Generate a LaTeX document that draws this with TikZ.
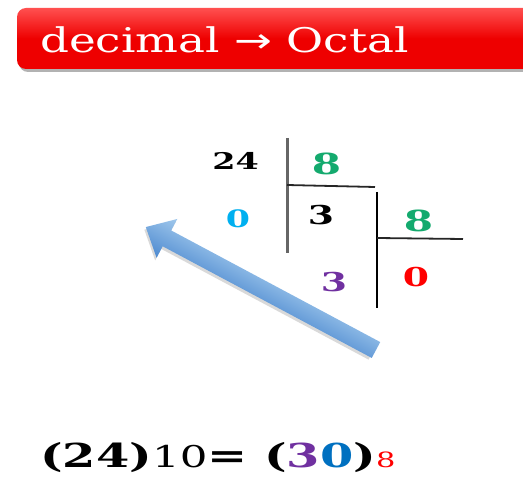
\documentclass[tikz,border=0pt]{standalone}
\usepackage{fontspec}
\setmainfont{DejaVu Serif}
\newfontfamily\arrowfont{DejaVu Sans}
\definecolor{banred}{RGB}{238,0,0}
\definecolor{banlight}{RGB}{255,80,80}
\definecolor{digitgreen}{RGB}{20,170,110}
\definecolor{digitcyan}{RGB}{0,176,240}
\definecolor{digitpurple}{RGB}{112,48,160}
\definecolor{digitblue}{RGB}{0,112,192}
\definecolor{digitred}{RGB}{255,0,0}
\definecolor{arrlight}{RGB}{160,200,236}
\definecolor{arrdark}{RGB}{78,138,208}
\tikzset{
  digit/.style={inner sep=0pt, xscale=1.45, font=\fontsize{#1}{#1}\selectfont\bfseries},
  bar/.style={line width=1.8pt, black!85},
}

\begin{document}
\begin{tikzpicture}[x=1pt,y=-1pt]
  \useasboundingbox (0,0) rectangle (523,478);
  %% Title banner
  \fill[black!30, rounded corners=9pt] (19,11) rectangle (545,72);
  \shade[top color=banlight, bottom color=banred, middle color=banred, rounded corners=9pt] (17,8) rectangle (545,69);
  \node[anchor=base west, inner sep=0pt, text=white, xscale=1.33, font=\fontsize{34}{34}\selectfont] (title) at (40,53) {decimal {\arrowfont →} Octal};
  %% Division steps
  \node[digit=23, text=black] (dividend) at (235.5,161) {24};
  \node[digit=29, text=digitgreen] (baseA) at (326.5,164) {8};
  \node[digit=24, text=digitcyan] (remA) at (238,219) {0};
  \node[digit=26, text=black] (quotA) at (321,215) {3};
  \node[digit=29, text=digitgreen] (baseB) at (418.5,221) {8};
  \node[digit=26, text=digitpurple] (remB) at (334,282) {3};
  \node[digit=26, text=digitred] (quotB) at (416,277) {0};
  \draw[line width=3pt, black!60] (287,138) -- (287,253);
  \draw[bar] (287,185) -- (375,187);
  \draw[bar, black] (377,192) -- (377,308);
  \draw[bar] (377,238) -- (463,239);
  %% Reading arrow (bottom to top)
  \coordinate (tail) at (376,350);
  \begin{scope}[transform canvas={shift={(tail)}, rotate=151.9}]
    \fill[black, opacity=0.15] (2,-12) -- (237,-12) -- (237,-25) -- (261,-3) -- (237,19) -- (237,6) -- (2,6) -- cycle;
    \shade[top color=arrdark, bottom color=arrlight] (0,-9) -- (237,-9) -- (237,-22) -- (261,0) -- (237,22) -- (237,9) -- (0,9) -- cycle;
  \end{scope}
  %% Result
  \node[anchor=base west, inner sep=0pt, xscale=1.45, font=\fontsize{33}{33}\selectfont\bfseries] (result) at (40,468)
    {(24){\fontsize{30}{30}\selectfont\mdseries 10}= (\textcolor{digitpurple}{3}\textcolor{digitblue}{0}){\fontsize{21}{21}\selectfont\mdseries\textcolor{digitred}{8}}};
\end{tikzpicture}
\end{document}
